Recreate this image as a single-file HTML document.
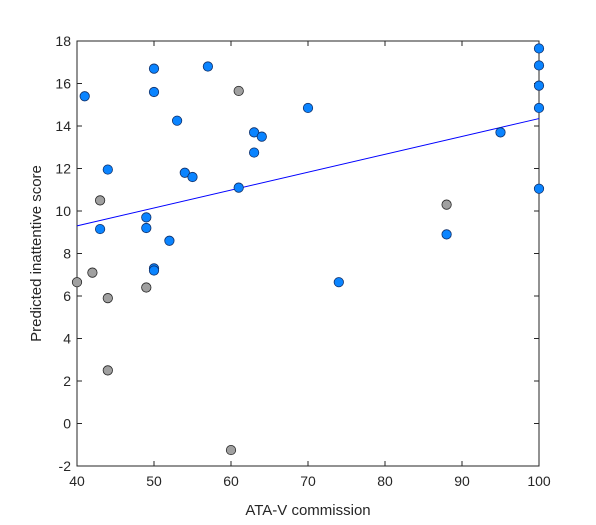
<!DOCTYPE html>
<html><head><meta charset="utf-8"><style>
body{margin:0;background:#fff}
svg{display:block;font-family:"Liberation Sans",Arial,sans-serif}
</style></head><body>
<svg id="chart" width="596" height="525">
<rect width="596" height="525" fill="#fff"/>
<g id="axes"></g><g id="marks"></g>
</svg>
<script>
const xTicks=[40,50,60,70,80,90,100];
const yTicks=[-2,0,2,4,6,8,10,12,14,16,18];
const blueX=[41,50,50,57,53,70,63,64,63,44,54,55,61,49,49,43,52,50,50,74,95,88,100,100,100,100,100];
const blueY=[15.4,16.7,15.6,16.8,14.25,14.85,13.7,13.5,12.75,11.95,11.8,11.6,11.1,9.7,9.2,9.15,8.6,7.3,7.2,6.65,13.7,8.9,17.65,16.85,15.9,14.85,11.05];
const grayX=[61,43,42,40,44,49,44,60,88];
const grayY=[15.65,10.5,7.1,6.65,5.9,6.4,2.5,-1.25,10.3];
const fitX=[40,100];
const fitY=[9.3,14.35];
const L=77,R=539,T=41,B=466;
const sx=v=>L+(v-40)/60*(R-L);
const sy=v=>B-(v+2)/20*(B-T);
const NS="http://www.w3.org/2000/svg";
function mk(tag,attrs,parent,text){const e=document.createElementNS(NS,tag);for(const k in attrs)e.setAttribute(k,attrs[k]);if(text!==undefined)e.textContent=text;parent.appendChild(e);return e;}
const ax=document.getElementById('axes'),mg=document.getElementById('marks');
const box=mk('rect',{x:L,y:T,width:R-L,height:B-T,fill:'none',stroke:'#262626','stroke-width':1},ax);


xTicks.forEach(v=>{const x=sx(v);
mk('line',{x1:x,x2:x,y1:B,y2:B-5,stroke:'#262626'},ax);mk('line',{x1:x,x2:x,y1:T,y2:T+5,stroke:'#262626'},ax);
const t=mk('text',{x:x,y:B+20,'text-anchor':'middle','font-size':14,fill:'#262626'},ax,v);

});
yTicks.forEach(v=>{const y=sy(v);
mk('line',{x1:L,x2:L+5,y1:y,y2:y,stroke:'#262626'},ax);mk('line',{x1:R,x2:R-5,y1:y,y2:y,stroke:'#262626'},ax);
const t=mk('text',{x:L-6,y:y+5,'text-anchor':'end','font-size':14,fill:'#262626'},ax,v);

});
const xt=mk('text',{x:(L+R)/2,y:515,'text-anchor':'middle','font-size':15,fill:'#262626'},ax,'ATA-V commission');


const yt=mk('text',{x:0,y:0,transform:`translate(41,${(T+B)/2}) rotate(-90)`,'text-anchor':'middle','font-size':15,fill:'#262626'},ax,'Predicted inattentive score');


const fl=mk('line',{x1:sx(fitX[0]),y1:sy(fitY[0]),x2:sx(fitX[1]),y2:sy(fitY[1]),stroke:'#0000ff','stroke-width':1},mg);


grayX.forEach((v,i)=>{const c=mk('circle',{cx:sx(v),cy:sy(grayY[i]),r:4.7,fill:'#a0a0a0',stroke:'#262626','stroke-width':0.8},mg);

});
blueX.forEach((v,i)=>{const c=mk('circle',{cx:sx(v),cy:sy(blueY[i]),r:4.7,fill:'#0a84ff',stroke:'#10306a','stroke-width':0.8},mg);

});
</script>
</body></html>
